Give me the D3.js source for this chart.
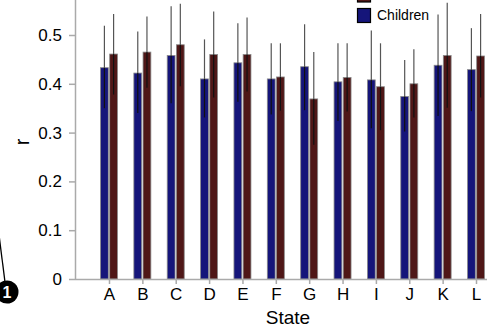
<!DOCTYPE html>
<meta charset="utf-8">
<style>
body { margin: 0; background: #fff; }
svg { display: block; font-family: "Liberation Sans", Arial, sans-serif; }
</style>
<body>
<svg width="487" height="330"></svg>
<script src="https://d3js.org/d3.v7.min.js"></script>
<script>

// data
var states = ["A","B","C","D","E","F","G","H","I","J","K","L"];
var series = ["Children", "Adults"];
var children    = [0.433,0.422,0.458,0.410,0.443,0.410,0.435,0.404,0.408,0.374,0.438,0.429];
var childrenHi  = [0.519,0.507,0.559,0.491,0.524,0.483,0.522,0.483,0.509,0.449,0.542,0.514];
var childrenLo  = [0.350,0.340,0.360,0.331,0.363,0.337,0.346,0.324,0.309,0.302,0.334,0.344];
var adults      = [0.461,0.465,0.480,0.460,0.460,0.414,0.369,0.413,0.394,0.400,0.458,0.457];
var adultsHi    = [0.543,0.538,0.564,0.548,0.536,0.483,0.465,0.483,0.483,0.471,0.566,0.543];
var adultsLo    = [0.378,0.392,0.395,0.372,0.384,0.345,0.275,0.343,0.305,0.331,0.351,0.372];
var yTicks = [0, 0.1, 0.2, 0.3, 0.4, 0.5];

var colors = { "Children": "#15157a", "Adults": "#4f1717" };

var svg = d3.select("svg");

var x = d3.scalePoint().domain(states).range([109, 476]);
var x1 = d3.scaleBand().domain(series).range([-8.5, 8.5]).paddingInner(0.15);
var y = d3.scaleLinear().domain([0, 0.5]).range([279, 35]);

var rows = [];
states.forEach(function(s, i) {
  rows.push({ state: s, key: "Children", v: children[i], hi: childrenHi[i], lo: childrenLo[i] });
  rows.push({ state: s, key: "Adults", v: adults[i], hi: adultsHi[i], lo: adultsLo[i] });
});

function cx(d) { return x(d.state) + x1(d.key) + x1.bandwidth() / 2; }

// bars
svg.selectAll("rect.bar").data(rows).enter().append("rect")
  .attr("class", "bar")
  .attr("x", function(d) { return x(d.state) + x1(d.key); })
  .attr("width", x1.bandwidth())
  .attr("y", function(d) { return y(d.v); })
  .attr("height", function(d) { return y(0) - y(d.v); })
  .attr("fill", function(d) { return colors[d.key]; })
  .attr("stroke", "#8a8a8a")
  .attr("stroke-width", 0.8);

// error bars: grey above the bar, dark inside it
svg.selectAll("line.errHi").data(rows).enter().append("line")
  .attr("class", "errHi")
  .attr("x1", cx).attr("x2", cx)
  .attr("y1", function(d) { return y(d.v); })
  .attr("y2", function(d) { return y(d.hi); })
  .attr("stroke", "#555")
  .attr("stroke-width", 1.2);
svg.selectAll("line.errLo").data(rows).enter().append("line")
  .attr("class", "errLo")
  .attr("x1", cx).attr("x2", cx)
  .attr("y1", function(d) { return y(d.lo); })
  .attr("y2", function(d) { return y(d.v); })
  .attr("stroke", "#111")
  .attr("stroke-width", 1.2);

// y axis
var yAxis = svg.append("g")
  .attr("transform", "translate(75,0)")
  .call(d3.axisLeft(y).tickValues(yTicks).tickFormat(function(d) { return d === 0 ? "0" : d3.format(".1f")(d); })
        .tickSize(6).tickSizeOuter(0).tickPadding(7));
yAxis.select(".domain").attr("d", "M0.5,279V-5").attr("stroke", "#aaa").attr("stroke-width", 1.5);
yAxis.selectAll(".tick line").attr("stroke", "#aaa").attr("stroke-width", 1.5);
yAxis.selectAll(".tick text").attr("font-size", 17).attr("fill", "#000")
  .attr("font-family", "Liberation Sans, Arial, sans-serif");

// x axis
var xAxis = svg.append("g")
  .attr("transform", "translate(0,279)")
  .call(d3.axisBottom(x).tickSize(5).tickSizeOuter(0).tickPadding(4));
xAxis.select(".domain").attr("d", "M75,0.5H495").attr("stroke", "#aaa").attr("stroke-width", 1.5);
xAxis.selectAll(".tick line").attr("stroke", "#aaa").attr("stroke-width", 1.5);
xAxis.selectAll(".tick text").attr("font-size", 17).attr("fill", "#000")
  .attr("font-family", "Liberation Sans, Arial, sans-serif");

// axis titles
svg.append("text")
  .attr("x", 288).attr("y", 324)
  .attr("text-anchor", "middle")
  .attr("font-size", 19)
  .text("State");

svg.append("text")
  .attr("transform", "translate(29,142) rotate(-90)")
  .attr("text-anchor", "middle")
  .attr("font-size", 20)
  .text("r");

// legend (top entry is cut off by the frame)
var legend = svg.append("g");
legend.append("rect").attr("x", 357.5).attr("y", -12).attr("width", 13).attr("height", 14)
  .attr("fill", colors["Adults"]).attr("stroke", "#000").attr("stroke-width", 1.2);
legend.append("rect").attr("x", 357.5).attr("y", 8.5).attr("width", 13).attr("height", 14)
  .attr("fill", colors["Children"]).attr("stroke", "#000").attr("stroke-width", 1.2);
legend.append("text").attr("x", 377).attr("y", 20).attr("font-size", 14).text("Children");

// panel marker bottom left
svg.append("line").attr("x1", -1).attr("y1", 235).attr("x2", 5).attr("y2", 282)
  .attr("stroke", "#000").attr("stroke-width", 1.3);
svg.append("circle").attr("cx", 7).attr("cy", 292).attr("r", 11.5).attr("fill", "#000");
svg.append("text").attr("x", 7).attr("y", 298).attr("text-anchor", "middle")
  .attr("font-size", 16).attr("font-weight", "bold").attr("fill", "#fff").text("1");

</script>
</body>
